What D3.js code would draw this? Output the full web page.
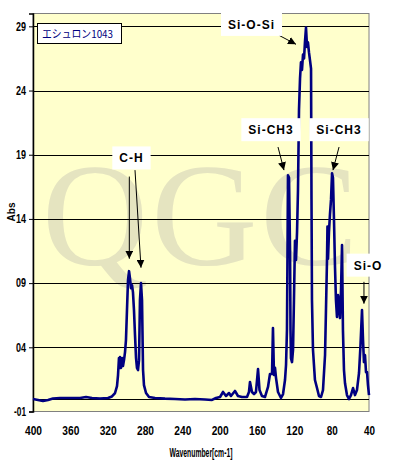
<!DOCTYPE html>
<html>
<head>
<meta charset="utf-8">
<script src="https://cdn.jsdelivr.net/npm/d3@7"></script>
<style>
  body { margin: 0; background: #fff; }
  svg { display: block; }
</style>
</head>
<body>
<svg id="chart"></svg>
<script>
// wavenumber axis is in units of 10 cm-1 (400 = 4000 cm-1)
var wave = [400, 394.6, 389.3, 383.9, 378.6, 371.1, 360.4, 349.6, 343.2, 336.8, 328.2, 319.6, 315.4, 312.1, 310.0,
  308.9, 307.9, 307.3, 306.8, 305.7, 304.6, 303.6, 302.5, 301.4, 300.4, 299.3, 298.2, 297.1, 296.1, 295.0,
  293.9, 292.9, 291.8, 290.7, 289.6, 288.6, 287.5, 286.4, 285.4, 284.3, 283.2, 282.1, 281.1, 278.9, 275.7,
  269.3, 258.6, 247.9, 237.1, 226.4, 215.7, 208.2, 203.9, 199.6, 196.4, 193.2, 190.0, 187.9, 183.6, 180.4,
  176.1, 170.7, 168.6, 167.5, 165.4, 163.2, 161.1, 158.9, 157.3, 154.7, 151.4, 148.2, 146.1, 143.9, 142.9,
  141.8, 140.7, 139.6, 137.5, 134.3, 132.1, 130.0, 128.9, 127.9, 127.3, 126.8, 125.7, 124.6, 124.1, 123.6,
  122.5, 121.4, 120.4, 119.3, 118.2, 117.1, 116.1, 115.0, 113.9, 112.9, 111.8, 110.7, 109.6, 108.6, 107.5,
  106.4, 105.4, 104.3, 103.2, 102.1, 101.6, 101.1, 100.0, 97.9, 95.7, 93.6, 91.4, 89.3, 87.1, 86.1,
  85.0, 84.5, 83.9, 82.9, 81.8, 80.7, 79.6, 78.6, 77.5, 76.4, 75.4, 74.3, 73.2, 72.1, 71.1,
  70.0, 68.9, 67.9, 66.8, 65.7, 63.6, 61.4, 59.3, 57.1, 55.0, 52.9, 50.7, 49.1, 47.5, 46.4,
  45.4, 44.3, 43.2, 42.1, 41.1, 40.0]
var absorb = [-0.03, -0.1, -0.18, -0.1, 0.01, 0.05, 0.05, 0.05, 0.13, 0.05, 0.01, 0.05, 0.17, 0.44, 0.98,
  1.84, 3.16, 2.4, 3.24, 2.4, 3.16, 2.54, 3.0, 3.63, 4.56, 6.9, 9.23, 9.93, 9.39, 8.61,
  8.84, 8.3, 6.9, 4.95, 3.16, 2.4, 2.23, 3.0, 7.68, 9.0, 7.68, 2.23, 1.06, 0.44, 0.13,
  0.05, 0.0, -0.03, -0.07, -0.03, -0.07, -0.1, 0.05, 0.13, 0.52, 0.21, 0.44, 0.21, 0.6, 0.21,
  0.13, 0.13, 0.52, 1.3, 0.52, 0.36, 0.52, 2.31, 0.67, 0.21, 0.13, 0.91, 1.92, 1.92, 5.5,
  1.84, 2.4, 1.6, 0.52, 0.05, 0.36, 1.45, 2.62, 5.34, 11.57, 17.4, 17.2, 11.6, 5.34, 3.16,
  2.85, 3.8, 7.7, 12.3, 10.8, 12.97, 16.2, 22.5, 24.95, 26.2, 25.6, 26.8, 26.5, 27.8, 28.9,
  27.4, 27.75, 26.97, 26.35, 25.7, 15.5, 7.68, 3.79, 1.45, 0.83, 0.21, 0.13, 0.67, 3.4, 6.9,
  10.8, 13.4, 10.9, 12.97, 14.37, 15.5, 17.56, 17.2, 13.9, 10.17, 7.68, 6.36, 8.07, 7.3, 6.28,
  8.4, 11.96, 5.3, 2.23, 1.2, 0.28, -0.03, 0.28, 0.83, 0.28, 0.67, 2.0, 4.17, 6.9, 4.56,
  2.85, 3.4, 2.07, 2.07, 1.06, 0.28]

var xTicks = [400, 360, 320, 280, 240, 200, 160, 120, 80, 40]
var yTicks = [-1, 4, 9, 14, 19, 24, 29]

// peak labels: text, label centre, arrow start, arrow tip (data units)
var notes = [
  { text: 'Si-O-Si', w: 165.9, v: 29.15, arrows: [[136.4, 28.3, 118.2, 27.6]] },
  { text: 'Si-CH3', w: 145.0, v: 20.95, arrows: [[137.5, 19.6, 131.1, 17.8]] },
  { text: 'Si-CH3', w: 72.1, v: 20.95, arrows: [[72.1, 19.6, 78.6, 17.8]] },
  { text: 'C-H', w: 294.5, v: 18.75, arrows: [[296.8, 17.3, 296.8, 10.9], [290.7, 17.8, 284.3, 10.2]] },
  { text: 'Si-O', w: 41.1, v: 10.4, arrows: [[45.4, 9.1, 45.4, 7.4]] }
]

var W = 393, H = 462
var svg = d3.select('#chart').attr('width', W).attr('height', H)

var x = d3.scaleLinear().domain([400, 40]).range([33, 369])
var y = d3.scaleLinear().domain([-1, 30]).range([411.5, 13.5])

svg.append('defs').append('marker')
  .attr('id', 'head')
  .attr('viewBox', '0 0 10 10')
  .attr('refX', 10).attr('refY', 5)
  .attr('markerWidth', 8).attr('markerHeight', 8)
  .attr('markerUnits', 'userSpaceOnUse')
  .attr('orient', 'auto')
  .append('path').attr('d', 'M0,0L10,5L0,10Z').attr('fill', '#000')

// plot area
svg.append('rect')
  .attr('x', x(400)).attr('y', y(30))
  .attr('width', x(40) - x(400)).attr('height', y(-1) - y(30))
  .attr('fill', '#ffffcc').attr('stroke', '#808080').attr('stroke-width', 1)

// watermark
svg.append('text')
  .attr('x', 42).attr('y', 265)
  .attr('font-family', 'Liberation Serif, serif')
  .attr('font-size', 147)
  .attr('letter-spacing', 3)
  .attr('fill', '#e5e4c0')
  .text('QGC')

// gridlines
svg.append('g').selectAll('line')
  .data(yTicks.filter(function(d) { return d > -1 }).concat([0]))
  .join('line')
  .attr('x1', x(400)).attr('x2', x(40))
  .attr('y1', function(d) { return Math.round(y(d)) + 0.5 })
  .attr('y2', function(d) { return Math.round(y(d)) + 0.5 })
  .attr('stroke', '#000').attr('stroke-width', 1.2)

// y axis
var yAxis = svg.append('g')
  .attr('transform', 'translate(' + x(400) + ',0)')
  .call(d3.axisLeft(y).tickValues(yTicks).tickSize(4).tickPadding(3)
    .tickFormat(function(d) { return d < 0 ? '-0' + (-d) : d < 10 ? '0' + d : '' + d }))
yAxis.select('.domain').attr('stroke', '#000').attr('stroke-width', 1.5)
yAxis.selectAll('.tick line').attr('stroke', '#000')
yAxis.selectAll('text')
  .attr('font-family', 'Liberation Sans, Arial, sans-serif')
  .attr('font-weight', 'bold').attr('font-size', 12).attr('fill', '#000')
  .attr('textLength', function(d) { return d < 0 ? 12 : 10 })
  .attr('lengthAdjust', 'spacingAndGlyphs')

// x axis
var xAxis = svg.append('g')
  .attr('transform', 'translate(0,' + y(-1) + ')')
  .call(d3.axisBottom(x).tickValues(xTicks).tickSize(0).tickPadding(15))
xAxis.select('.domain').remove()
xAxis.selectAll('text')
  .attr('font-family', 'Liberation Sans, Arial, sans-serif')
  .attr('font-weight', 'bold').attr('font-size', 12).attr('fill', '#000')
  .attr('textLength', function(d) { return d >= 100 ? 17 : 11 })
  .attr('lengthAdjust', 'spacingAndGlyphs')

// axis titles
svg.append('text')
  .attr('x', 201).attr('y', 457)
  .attr('text-anchor', 'middle')
  .attr('font-family', 'Liberation Sans, Arial, sans-serif')
  .attr('font-weight', 'bold').attr('font-size', 12)
  .attr('textLength', 63).attr('lengthAdjust', 'spacingAndGlyphs')
  .text('Wavenumber[cm-1]')

svg.append('text')
  .attr('transform', 'translate(15,212)rotate(-90)')
  .attr('text-anchor', 'middle')
  .attr('font-family', 'Liberation Sans, Arial, sans-serif')
  .attr('font-weight', 'bold').attr('font-size', 11)
  .attr('textLength', 19).attr('lengthAdjust', 'spacingAndGlyphs')
  .text('Abs')

// spectrum
var pts = d3.zip(wave, absorb)
svg.append('path')
  .datum(pts)
  .attr('fill', 'none')
  .attr('stroke', '#000080')
  .attr('stroke-width', 2.6)
  .attr('stroke-linejoin', 'round')
  .attr('d', d3.line().x(function(d) { return x(d[0]) }).y(function(d) { return y(d[1]) }))

// annotations
var ann = svg.append('g').selectAll('g').data(notes).join('g')
ann.selectAll('line')
  .data(function(d) { return d.arrows })
  .join('line')
  .attr('x1', function(a) { return x(a[0]) }).attr('y1', function(a) { return y(a[1]) })
  .attr('x2', function(a) { return x(a[2]) }).attr('y2', function(a) { return y(a[3]) })
  .attr('stroke', '#000').attr('stroke-width', 1)
  .attr('marker-end', 'url(#head)')
ann.each(function(d) {
  var g = d3.select(this)
  var t = g.append('text')
    .attr('x', x(d.w)).attr('y', y(d.v) + 4.5)
    .attr('text-anchor', 'middle')
    .attr('font-family', 'Liberation Sans, Arial, sans-serif')
    .attr('font-weight', 'bold').attr('font-size', 12)
    .attr('letter-spacing', 1)
    .text(d.text)
  var b = t.node().getBBox()
  g.insert('rect', 'text')
    .attr('x', b.x - 7).attr('y', y(d.v) - 11.5)
    .attr('width', b.width + 14).attr('height', 23)
    .attr('fill', '#fff')
})

// legend
var leg = svg.append('g')
leg.append('rect')
  .attr('x', 37.5).attr('y', 23.5).attr('width', 84).attr('height', 20)
  .attr('fill', '#fff').attr('stroke', '#000').attr('stroke-width', 1)
leg.append('text')
  .attr('x', 42).attr('y', 38)
  .attr('font-family', 'Noto Sans CJK JP, sans-serif')
  .attr('font-size', 11).attr('fill', '#000080')
  .attr('textLength', 71).attr('lengthAdjust', 'spacingAndGlyphs')
  .text('エシュロン1043')
</script>
</body>
</html>
